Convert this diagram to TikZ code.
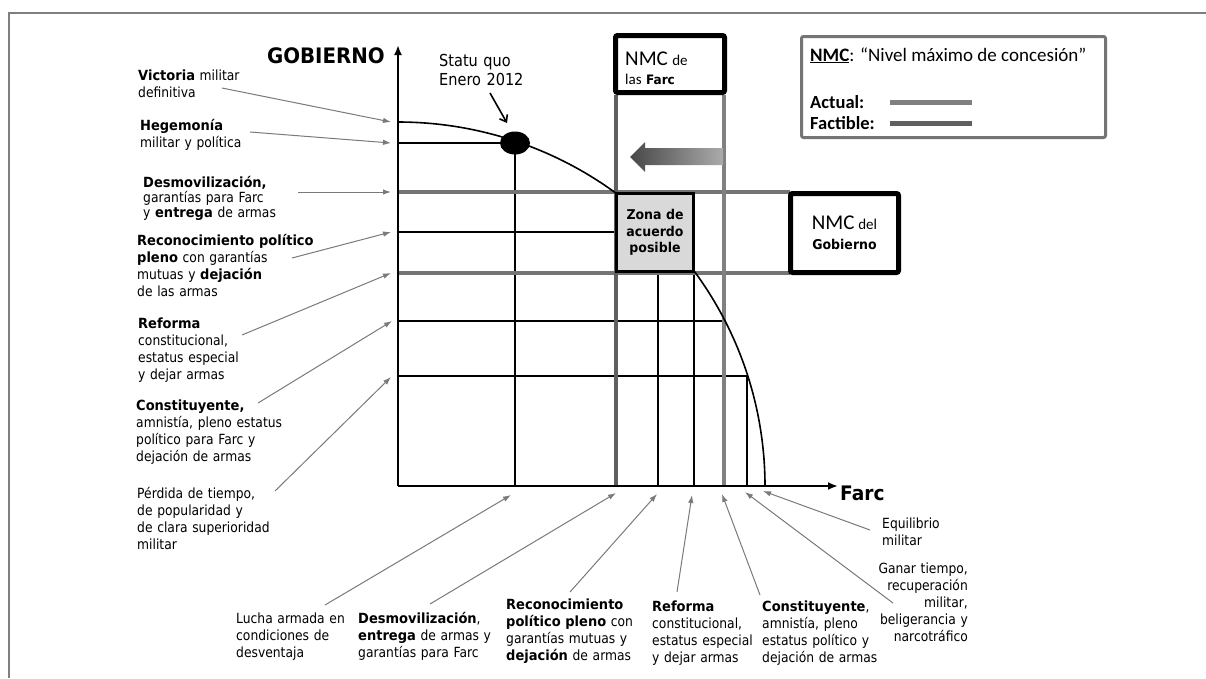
\documentclass[tikz,border=0pt]{standalone}
\usepackage{fontspec}
\setmainfont{DejaVu Sans}[UprightFeatures={FakeStretch=0.88},BoldFeatures={FakeStretch=0.93}]
\newfontfamily\calfont{Carlito}
\usetikzlibrary{arrows.meta,shapes.geometric}
\definecolor{framec}{HTML}{7F7F7F}
\definecolor{lab}{HTML}{7A7A7A}
\definecolor{gact}{HTML}{808080}
\definecolor{gfac}{HTML}{606060}
\definecolor{ghor}{HTML}{747474}
\definecolor{zonac}{HTML}{D9D9D9}
\begin{document}
\begin{tikzpicture}[x=1pt,y=-1pt,
  lbl/.style={anchor=base west,inner sep=0pt,align=left,text width=190pt,font=\fontsize{14}{17}\selectfont},
  lblr/.style={anchor=base east,inner sep=0pt,align=right,text width=150pt,font=\fontsize{14}{17}\selectfont},
  blk/.style={line width=1.5pt,black},
  gline/.style={line width=4.5pt},
  ptr/.style={draw=lab,line width=1pt,-{Latex[length=8pt,width=5.5pt]}},
  nmcbox/.style={draw=black,line width=5pt,rounded corners=2pt,fill=white,inner sep=0pt},
  axis/.style={line width=2pt,black,-{Latex[length=10pt,width=8pt]}}
]
\useasboundingbox (0,0) rectangle (1206,678);
\fill[white] (0,0) rectangle (1206,678);
\draw[framec,line width=2pt] (8.5,678) -- (8.5,13) -- (1206,13);

% thin grid lines
\draw[blk] (398,143) -- (515,143);
\draw[blk] (515,143) -- (515,486);
\draw[blk] (398,232) -- (616,232);
\draw[blk] (398,321) -- (724,321);
\draw[blk] (398,376) -- (747,376);
\draw[blk] (658,273) -- (658,486);
\draw[blk] (694,273) -- (694,486);
\draw[blk] (747,376) -- (747,486);

% grey NMC lines
\draw[gline,ghor] (398,192) -- (790,192);
\draw[gline,ghor] (398,273) -- (790,273);
\draw[gline,gfac] (616,95) -- (616,486);
\draw[gline,gact] (724,95) -- (724,486);

% frontier curve
\draw[line width=1.6pt] plot[domain=90:0,samples=90,smooth] ({398+367*cos(\x)},{486-364*sin(\x)});

% axes
\coordinate (O) at (398,486);
\coordinate (ytop) at (398,45);
\coordinate (xend) at (838,486);
\draw[axis] (O) -- (ytop);
\draw[axis] (O) -- (xend);
\node[font=\bfseries\fontsize{21.3}{25}\selectfont,anchor=base east,inner sep=0pt] (gob) at (385,63) {GOBIERNO};
\node[font=\bfseries\fontsize{20}{24}\selectfont,anchor=base west,inner sep=0pt] (farc) at (840,500) {Farc};

% status quo
\node[ellipse,fill=black,minimum width=30pt,minimum height=23pt,inner sep=0pt] (sq) at (515,143) {};
\node[lbl,font=\fontsize{16.5}{19}\selectfont,text width=120pt] (sqlbl) at (439,66) {Statu quo\\Enero 2012};
\coordinate (sqS) at (490,93);
\coordinate (sqT) at (507,123);
\draw[line width=1.6pt,-{Straight Barb[length=6pt,width=9pt]}] (sqS) -- (sqT);

% gradient arrow
\shade[left color=black!72,right color=black!33] (630,157) -- (645,142) -- (645,148) -- (723,148) -- (723,165) -- (645,165) -- (645,172) -- cycle;

% zona box
\node[draw=black,line width=3pt,fill=zonac,minimum width=77pt,minimum height=78pt,inner sep=0pt,align=center,font=\bfseries\fontsize{13.5}{16.7}\selectfont] (zona) at (655,232.5) {Zona de\\acuerdo\\posible};

% NMC boxes
\node[nmcbox,minimum width=109pt,minimum height=57pt] (farcbox) at (670,64) {};
\node[lbl,text width=100pt,font=\fontsize{13}{19}\selectfont] (farctxt) at (625,65) {{\calfont\fontsize{21}{19}\selectfont NMC} {\calfont\fontsize{15}{19}\selectfont de}\\{\calfont\fontsize{15}{19}\selectfont las} \textbf{Farc}};
\node[nmcbox,minimum width=108pt,minimum height=79pt,align=center,font=\fontsize{13.5}{20}\selectfont] (gobbox) at (844.5,233) {{\calfont\fontsize{21}{20}\selectfont NMC}~{\calfont\fontsize{15}{20}\selectfont del}\\\textbf{Gobierno}};

% legend
\node[draw=ghor,line width=3pt,rounded corners=2pt,minimum width=304pt,minimum height=101pt,inner sep=0pt] (legend) at (953.5,87) {};
\node[anchor=base west,inner sep=0pt,font=\calfont\fontsize{19}{21}\selectfont] (legtitle) at (810,61) {\underline{\textbf{NMC}}: “Nivel máximo de concesión”};
\node[anchor=base west,inner sep=0pt,font=\calfont\bfseries\fontsize{18.5}{20}\selectfont] (legact) at (810,108) {Actual:};
\node[anchor=base west,inner sep=0pt,font=\calfont\bfseries\fontsize{18.5}{20}\selectfont] (legfac) at (810,129) {Factible:};
\coordinate (actA) at (890,102); \coordinate (actB) at (972,102);
\coordinate (facA) at (890,123); \coordinate (facB) at (972,123);
\draw[line width=5pt,gact] (actA) -- (actB);
\draw[line width=5pt,gfac] (facA) -- (facB);

% left labels
\node[lbl] (vic) at (138,80) {\textbf{Victoria} militar\\definitiva};
\node[lbl] (heg) at (140,130) {\textbf{Hegemonía}\\militar y política};
\node[lbl,font=\fontsize{14}{15}\selectfont] (des) at (143,187) {\textbf{Desmovilización,}\\garantías para Farc\\y \textbf{entrega} de armas};
\node[lbl] (rec) at (137,245) {\textbf{Reconocimiento político}\\\textbf{pleno} con garantías\\mutuas y \textbf{dejación}\\de las armas};
\node[lbl] (ref) at (138,328) {\textbf{Reforma}\\constitucional,\\estatus especial\\y dejar armas};
\node[lbl] (con) at (136,410) {\textbf{Constituyente,}\\amnistía, pleno estatus\\político para Farc y\\dejación de armas};
\node[lbl] (per) at (137,498) {Pérdida de tiempo,\\de popularidad y\\de clara superioridad\\militar};

% bottom labels
\node[lbl,text width=120pt] (lucha) at (236,623) {Lucha armada en\\condiciones de\\desventaja};
\node[lbl,text width=140pt] (desB) at (358,623) {\textbf{Desmovilización},\\\textbf{entrega} de armas y\\garantías para Farc};
\node[lbl,text width=140pt] (recB) at (506,609) {\textbf{Reconocimiento}\\\textbf{político pleno} con\\garantías mutuas y\\\textbf{dejación} de armas};
\node[lbl,text width=110pt] (refB) at (652,611) {\textbf{Reforma}\\constitucional,\\estatus especial\\y dejar armas};
\node[lbl,text width=130pt] (conB) at (762,611) {\textbf{Constituyente},\\amnistía, pleno\\estatus político y\\dejación de armas};
\node[lblr,text width=110pt] (ganar) at (968,573) {Ganar tiempo,\\recuperación\\militar,\\beligerancia y\\narcotráfico};
\node[lbl,text width=100pt] (equi) at (882,528) {Equilibrio\\militar};

% pointer arrows (label side -> axis)
\coordinate (vicS) at (222,88);  \coordinate (vicT) at (391,122);
\coordinate (hegS) at (250,132); \coordinate (hegT) at (391,143);
\coordinate (desS) at (298,192); \coordinate (desT) at (391,192);
\coordinate (recS) at (292,258); \coordinate (recT) at (391,232);
\coordinate (refS) at (242,335); \coordinate (refT) at (391,273);
\coordinate (conS) at (258,403); \coordinate (conT) at (392,321);
\coordinate (perS) at (275,491); \coordinate (perT) at (391,377);
\coordinate (luchaS) at (325,605); \coordinate (luchaT) at (511,495);
\coordinate (desBS) at (430,604); \coordinate (desBT) at (616,493);
\coordinate (recBS) at (570,592); \coordinate (recBT) at (657,494);
\coordinate (refBS) at (677,592); \coordinate (refBT) at (692,495);
\coordinate (conBS) at (760,595); \coordinate (conBT) at (722,494);
\coordinate (ganarS) at (893,603); \coordinate (ganarT) at (745,492);
\coordinate (equiS) at (870,530); \coordinate (equiT) at (763,491);
\foreach \n in {vic,heg,des,rec,ref,con,per,lucha,desB,recB,refB,conB,ganar,equi}
  \draw[ptr] (\n S) -- (\n T);
\end{tikzpicture}
\end{document}
